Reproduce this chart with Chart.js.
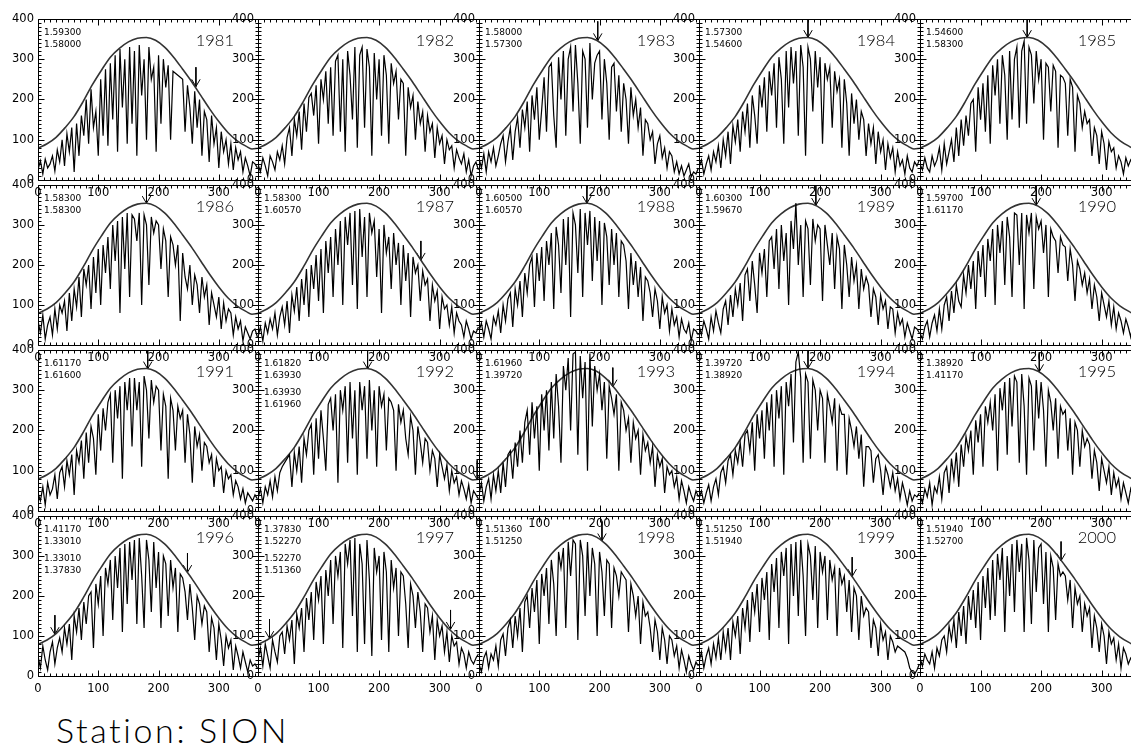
<!DOCTYPE html>
<html>
<head>
<meta charset="utf-8">
<script src="https://cdn.jsdelivr.net/npm/chart.js@4.4.1/dist/chart.umd.min.js"></script>
<style>
  html, body { margin: 0; padding: 0; background: #fff; }
  body { position: relative; width: 1131px; height: 747px; overflow: hidden; }
  canvas { position: absolute; }
  .yr { position: absolute; width: 70px; text-align: right; font-family: Lato, "DejaVu Sans", sans-serif; font-weight: 300; font-size: 16.5px; line-height: 16.5px; color: #000; }
  .note { position: absolute; font-family: "DejaVu Sans", sans-serif; font-size: 9px; line-height: 12px; color: #000; white-space: nowrap; }
  #title { position: absolute; left: 56px; top: 713px; font-family: Lato, "DejaVu Sans", sans-serif; font-weight: 300; font-size: 34px; line-height: 34px; letter-spacing: 2.6px; color: #000; }
</style>
</head>
<body>
<div id="title">Station: SION</div>
<script>
// day of year for every sample (one every 4 days)
const days = [0,4,8,12,16,20,24,28,32,36,40,44,48,52,56,60,64,68,72,76,80,84,88,92,96,100,104,108,112,116,
  120,124,128,132,136,140,144,148,152,156,160,164,168,172,176,180,184,188,192,196,200,204,208,212,216,220,224,228,232,236,
  240,244,248,252,256,260,264,268,272,276,280,284,288,292,296,300,304,308,312,316,320,324,328,332,336,340,344,348,352,356,360,364];

// clear-sky envelope, same for every year
const envDays = [0,15,30,45,60,75,90,105,120,135,150,165,180,195,210,225,240,255,270,285,300,315,330,345,355,365];
const envVals = [79,90,106,130,158,195,236,272,305,327,343,352,354,347,330,305,275,244,210,176,145,118,98,84,77,79];

const years = [1981,1982,1983,1984,1985,1986,1987,1988,1989,1990,1991,1992,1993,1994,1995,1996,1997,1998,1999,2000];

const y1981 = [25,48,15,52,30,40,60,22,75,45, 100,35,115,70,130,20,140,60,160,110, 200,90,225,130,170,60,250,110,275,85,
  290,150,310,70,325,180,300,90,330,140, 320,60,335,210,300,100,330,250,280,70, 310,140,300,230,285,100,270,265,260,255,
  250,120,235,180,90,220,130,200,60,170, 150,45,160,90,130,30,120,70,100,40, 90,25,80,50,70,20,55,35,10,45, 40,30];
const y1982 = [40,20,55,35,10,60,45,25,70,50, 85,40,105,130,60,150,110,170,75,190, 120,205,215,160,235,90,250,200,270,140,
  280,110,295,310,120,300,70,320,260,150, 330,80,310,330,130,325,280,60,315,200, 300,110,310,260,90,290,240,270,150,250,
  240,60,230,180,210,100,195,140,170,70, 160,120,140,55,130,90,110,40,100,75, 85,30,75,55,40,65,20,50,10,35, 45,25];
const y1983 = [55,30,65,20,70,45,80,35,60,90, 110,45,95,130,50,120,155,80,175,130, 195,70,210,150,230,100,175,255,120,280,
  290,160,80,305,200,320,110,300,330,170, 335,240,90,320,300,130,340,200,290,310, 320,150,300,240,100,280,290,170,260,120,
  240,200,90,230,160,200,130,180,60,150, 140,100,120,40,90,110,55,80,30,70, 60,20,45,15,35,10,25,40,8,20, 15,30];
const y1984 = [30,50,15,40,60,25,70,45,85,30, 100,60,120,40,135,95,150,70,170,120, 190,80,210,160,90,235,180,255,120,270,
  210,290,130,305,250,90,320,180,330,240, 320,110,335,280,60,330,300,170,320,230, 305,90,290,250,280,130,270,220,250,80,
  250,190,60,215,140,200,100,170,150,60, 140,90,130,40,120,70,100,25,90,55, 80,20,70,35,50,15,60,30,20,45, 35,50];
const y1985 = [40,25,55,30,20,60,35,50,80,25, 90,40,70,100,45,130,60,150,85,160, 110,190,200,70,230,150,240,120,260,90,
  285,210,300,140,310,260,100,320,150,300, 330,130,320,345,140,330,310,190,320,250, 300,100,290,280,170,285,270,80,260,255,
  240,110,250,230,70,210,190,130,170,140, 150,60,130,110,40,120,90,25,95,70, 80,30,60,45,15,55,35,50,40,45, 55,40];
const y1986 = [60,30,75,15,50,70,25,90,40,100, 80,110,35,130,60,140,95,170,70,190, 150,200,90,220,130,240,100,250,180,270,
  140,300,210,310,80,320,190,330,120,325, 315,260,330,100,325,300,150,320,280,310, 300,190,290,260,120,270,250,200,250,60,
  230,170,140,200,100,175,150,80,170,120, 150,50,130,100,70,120,40,105,60,90, 80,25,70,40,60,10,45,30,15,35, 40,20];
const y1987 = [20,45,10,55,30,65,40,80,25,70, 95,50,110,30,125,85,145,60,165,100, 190,70,200,140,225,110,240,80,260,180,
  270,120,290,200,310,100,320,250,330,150, 335,90,340,220,320,120,330,280,310,170, 290,80,300,230,270,140,280,200,255,100,
  250,160,230,70,220,180,200,110,185,150, 165,60,150,110,135,40,120,90,100,50, 95,30,80,60,50,20,60,40,15,35, 30,45];
const y1988 = [35,55,20,60,40,15,70,50,85,30, 100,60,115,130,45,140,100,160,70,180, 130,200,220,95,230,160,245,110,260,200,
  280,90,295,250,130,315,200,320,70,330, 300,180,340,120,330,250,335,160,320,210, 310,100,305,270,150,290,200,280,120,260,
  250,210,90,230,150,210,120,195,60,170, 160,130,70,140,110,40,120,80,100,35, 90,50,70,20,65,40,30,55,10,40, 35,25];
const y1989 = [50,25,60,40,15,70,35,85,55,30, 90,110,50,125,70,140,100,155,60,175, 190,110,210,150,80,230,180,240,120,260,
  270,190,290,140,300,210,280,100,310,240, 355,200,300,120,310,290,150,315,260,300, 290,110,300,250,200,280,140,270,240,90,
  250,200,120,220,160,200,90,190,140,170, 150,70,140,120,50,125,90,110,40,95, 90,30,80,50,65,20,55,35,15,45, 40,30];
const y1990 = [30,15,45,60,20,55,75,35,90,40, 100,120,60,135,80,150,110,95,175,130, 200,140,210,90,235,170,250,120,265,210,
  290,100,300,230,310,150,320,270,120,330, 325,200,330,90,325,280,330,140,320,290, 310,230,300,120,290,270,260,180,270,250,
  245,160,240,200,110,210,190,150,180,130, 165,90,150,120,60,130,100,70,110,50, 95,40,80,60,30,65,45,20,55,35, 45,30];
const y1991 = [45,25,60,15,70,40,55,90,30,95, 110,60,125,90,140,40,150,120,175,80, 195,120,210,180,90,240,150,255,200,270,
  290,120,300,230,310,80,320,250,330,160, 330,250,320,110,335,300,180,325,270,310, 300,150,290,260,80,280,250,150,260,230,
  250,120,240,190,70,210,160,190,100,170, 160,120,140,60,130,100,110,45,100,80, 90,40,75,60,30,55,20,45,35,25, 40,30];
const y1992 = [30,55,20,60,40,75,35,85,50,95, 110,120,130,140,60,145,100,160,70,180, 140,200,215,90,230,130,250,180,100,265,
  280,200,290,70,300,250,310,120,320,180, 300,90,320,250,310,130,325,200,300,110, 310,260,290,150,280,270,250,100,265,220,
  250,180,140,235,200,90,210,170,120,180, 170,100,150,130,60,140,110,80,115,50, 100,70,85,40,75,55,30,65,20,50, 40,30];
const y1993 = [40,70,25,60,80,30,90,50,100,45, 120,60,140,150,80,170,110,200,120,220, 250,140,270,180,260,100,290,200,300,150,
  320,180,340,260,120,360,300,380,200,390, 395,140,385,280,370,100,390,210,360,300, 340,250,320,130,310,280,240,290,100,270,
  250,200,230,120,220,180,200,90,190,150, 170,120,160,60,140,110,130,45,110,90, 100,60,85,30,75,50,20,60,40,25, 50,35];
const y1994 = [30,50,20,45,65,25,60,80,40,95, 110,70,125,140,90,150,120,170,110,190, 200,150,220,100,240,180,250,130,270,200,
  290,110,300,230,310,90,320,260,340,170, 370,395,330,120,340,320,130,325,300,200, 300,280,120,290,260,220,280,100,260,240,
  240,90,230,200,160,210,130,190,60,160, 160,150,70,130,140,100,40,110,90,60, 95,50,80,30,70,45,15,50,25,40, 35,45];
const y1995 = [40,20,55,35,70,15,60,45,85,30, 95,110,45,130,80,145,60,165,110,185, 150,200,90,225,170,240,110,260,220,270,
  200,290,100,305,250,320,140,330,210,335, 320,120,340,260,90,330,310,150,325,230, 320,250,110,300,270,200,280,130,260,240,
  250,150,230,90,220,200,110,200,160,180, 165,80,150,120,50,130,100,70,110,40, 95,60,80,30,70,45,20,55,35,40, 45,30];
const y1996 = [50,20,75,40,15,60,85,30,70,95, 60,120,80,130,40,150,110,170,90,185, 130,200,210,70,230,180,250,100,270,230,
  290,140,300,220,320,110,330,180,335,240, 340,130,345,250,120,340,290,160,335,220, 310,120,300,280,150,290,220,270,110,255,
  245,210,140,230,170,90,200,180,130,175, 160,60,145,120,40,130,90,25,100,70, 90,15,75,50,20,60,35,10,40,25, 30,20];
const y1997 = [40,70,25,80,50,20,90,60,35,100, 110,55,125,90,140,30,155,120,170,60, 195,140,210,90,235,190,250,80,265,200,
  290,130,300,250,310,70,330,280,340,150, 345,60,330,280,80,340,240,50,320,260, 300,90,310,260,60,290,220,270,100,260,
  250,180,70,230,200,120,210,160,60,180, 170,110,150,40,140,100,125,60,110,35, 100,75,85,30,70,55,20,60,40,30, 45,55];
const y1998 = [30,10,45,60,20,55,40,75,25,90, 105,50,120,140,70,150,100,170,60,185, 200,120,220,160,240,80,255,200,270,130,
  290,230,100,310,270,320,120,335,250,340, 330,90,340,300,150,335,200,320,280,100, 310,260,150,290,280,120,270,250,200,260,
  250,240,110,230,200,150,200,80,185,150, 160,120,60,140,110,40,120,90,30,100, 90,50,75,20,65,40,10,50,30,15, 35,25];
const y1999 = [35,60,20,50,70,30,80,45,95,40, 110,65,120,40,135,100,150,55,170,120, 190,85,210,160,230,110,245,190,260,90,
  280,210,295,120,310,250,320,80,330,200, 335,150,340,250,100,330,300,190,325,120, 310,260,300,140,290,240,270,100,270,230,
  250,160,240,110,220,200,90,200,150,170, 160,70,140,120,50,130,90,110,40,100, 85,60,75,70,65,60,45,20,10,5, 15,30];
const y2000 = [45,25,55,40,30,60,20,70,50,90, 100,60,125,90,140,70,160,100,175,80, 200,140,215,120,235,90,250,170,270,140,
  290,150,305,240,320,110,300,200,330,160, 340,260,330,110,345,290,130,340,210,320, 330,180,310,110,300,270,140,280,250,260,
  250,190,240,120,220,180,200,110,180,150, 170,70,150,120,60,130,100,30,110,80, 95,40,80,20,70,55,30,45,35,40, 50,45];

const series = [y1981,y1982,y1983,y1984,y1985,y1986,y1987,y1988,y1989,y1990,
  y1991,y1992,y1993,y1994,y1995,y1996,y1997,y1998,y1999,y2000];

// arrows: day and value of the tip (on the envelope)
const arrowDays = [[262],[],[197],[180],[177],[180],[269],[179],[193],[192],
  [182],[181,362],[222],[180],[197],[28,248],[19,318],[204],[253],[233]];
const arrowTips = [[232],[],[346],[354],[354],[354],[212],[354],[349],[349],
  [353],[353,78],[308],[354],[346],[104,259],[94,117],[338],[249],[288]];

// numbers printed in the upper left corner
const notes = [
  ['1.59300','1.58000'], [], ['1.58000','1.57300'], ['1.57300','1.54600'], ['1.54600','1.58300'],
  ['1.58300','1.58300'], ['1.58300','1.60570'], ['1.60500','1.60570'], ['1.60300','1.59670'], ['1.59700','1.61170'],
  ['1.61170','1.61600'], ['1.61820','1.63930','1.63930','1.61960'], ['1.61960','1.39720'], ['1.39720','1.38920'], ['1.38920','1.41170'],
  ['1.41170','1.33010','1.33010','1.37830'], ['1.37830','1.52270','1.52270','1.51360'], ['1.51360','1.51250'], ['1.51250','1.51940'], ['1.51940','1.52700']
];

const colLeft = [38, 258, 479, 699, 920, 1141];
const rowTop = [14, 180, 345, 511, 676];
const noteOffsets = [11.7, 23.7, 40.7, 52.7];

// box with inward ticks on all four sides (IDL style)
const frame = {
  id: 'frame',
  afterDatasetsDraw(chart) {
    const { ctx, chartArea: a, scales: { x, y } } = chart;
    const L = Math.round(a.left) + 0.5, R = Math.round(a.right) + 0.5;
    const T = Math.round(a.top) + 0.5, B = Math.round(a.bottom) + 0.5;
    ctx.save();
    ctx.strokeStyle = '#000';
    ctx.lineWidth = 1;
    ctx.beginPath();
    ctx.rect(L, T, R - L, B - T);
    for (let d = 0; d <= 365; d += 10) {
      const px = Math.round(x.getPixelForValue(d)) + 0.5;
      const len = d % 100 === 0 ? 6 : 3;
      ctx.moveTo(px, B); ctx.lineTo(px, B - len);
      ctx.moveTo(px, T); ctx.lineTo(px, T + len);
    }
    for (let v = 0; v <= 400; v += 10) {
      const py = Math.round(y.getPixelForValue(v)) + 0.5;
      const len = v % 100 === 0 ? 6 : 3;
      ctx.moveTo(L, py); ctx.lineTo(L + len, py);
      ctx.moveTo(R, py); ctx.lineTo(R - len, py);
    }
    ctx.stroke();
    ctx.restore();
  }
};

const tickFont = { family: 'DejaVu Sans', size: 11.5 };
const PADL = 40, PADT = 6, PADR = 6, PADB = 24;

function arrowPoints(i) {
  const pts = [];
  arrowDays[i].forEach((d, k) => {
    const tip = arrowTips[i][k];
    pts.push({ x: d, y: tip + 48 }, { x: d, y: tip }, { x: d - 7, y: tip + 18 }, { x: d, y: null },
             { x: d, y: tip }, { x: d + 7, y: tip + 18 }, { x: d, y: null });
  });
  return pts;
}

years.forEach((yr, i) => {
  const r = Math.floor(i / 5), c = i % 5;
  const left = colLeft[c], top = rowTop[r];
  const w = colLeft[c + 1] - left, h = rowTop[r + 1] - top;

  const cv = document.createElement('canvas');
  cv.width = w + PADL + PADR;
  cv.height = h + PADT + PADB;
  cv.style.left = (left - PADL) + 'px';
  cv.style.top = (top - PADT) + 'px';
  document.body.appendChild(cv);

  new Chart(cv, {
    type: 'line',
    data: {
      datasets: [
        {
          data: days.map((d, k) => ({ x: d, y: series[i][k] })),
          borderColor: '#000', borderWidth: 1.2, pointRadius: 0, tension: 0
        },
        {
          data: envDays.map((d, k) => ({ x: d, y: envVals[k] })),
          borderColor: '#333', borderWidth: 1.6, pointRadius: 0, cubicInterpolationMode: 'monotone'
        },
        {
          data: arrowPoints(i),
          borderColor: '#000', borderWidth: 1, pointRadius: 0, spanGaps: false
        }
      ]
    },
    options: {
      responsive: false,
      animation: false,
      devicePixelRatio: 1,
      events: [],
      layout: { padding: { top: PADT, right: PADR, left: 0, bottom: 0 } },
      plugins: { legend: { display: false }, tooltip: { enabled: false } },
      scales: {
        x: {
          type: 'linear', min: 0, max: 365,
          afterFit(s) { s.height = PADB; },
          afterBuildTicks(s) { s.ticks = [0, 100, 200, 300].map(v => ({ value: v })); },
          grid: { display: false, drawTicks: false },
          border: { display: false },
          ticks: { font: tickFont, color: '#000', padding: 6, maxRotation: 0, autoSkip: false }
        },
        y: {
          min: 0, max: 400,
          afterFit(s) { s.width = PADL; },
          afterBuildTicks(s) { s.ticks = [0, 100, 200, 300, 400].map(v => ({ value: v })); },
          grid: { display: false, drawTicks: false },
          border: { display: false },
          ticks: { font: tickFont, color: '#000', padding: 4, autoSkip: false }
        }
      }
    },
    plugins: [frame]
  });

  const yd = document.createElement('div');
  yd.className = 'yr';
  yd.textContent = yr;
  yd.style.left = (left + 196 - 70) + 'px';
  yd.style.top = (top + 18.4) + 'px';
  document.body.appendChild(yd);

  notes[i].forEach((t, k) => {
    const nd = document.createElement('div');
    nd.className = 'note';
    nd.textContent = t;
    nd.style.left = (left + 6) + 'px';
    nd.style.top = (top + noteOffsets[k]) + 'px';
    document.body.appendChild(nd);
  });
});
</script>
</body>
</html>
